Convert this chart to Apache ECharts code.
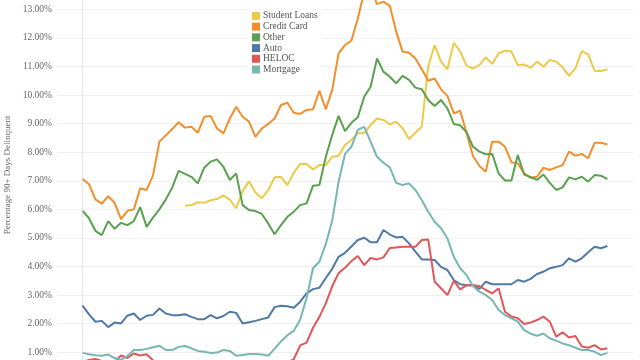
<!DOCTYPE html>
<html><head><meta charset="utf-8">
<script src="https://cdn.jsdelivr.net/npm/echarts@6/dist/echarts.min.js"></script>
<style>html,body{margin:0;padding:0;background:#fff}#c{width:640px;height:360px}</style>
</head><body><div id="c"></div>
<script>
// Quarters 1999Q1 .. 2019Q3 (83 quarters)
const quarters = [];
for (let y = 1999; y <= 2019; y++) for (let q = 1; q <= 4; q++) quarters.push(y + 'Q' + q);
quarters.length = 83;

const seriesNames = ['Student Loans', 'Credit Card', 'Other', 'Auto', 'HELOC', 'Mortgage'];

const studentLoans = [null,null,null,null,null,null,null,null,null,null,
  null,null,null,null,null,null,6.13,6.15,6.25,6.23,
  6.32,6.36,6.49,6.34,6.04,6.64,6.98,6.59,6.39,6.67,
  7.12,7.14,6.85,7.28,7.59,7.59,7.40,7.55,7.55,7.84,
  7.88,8.25,8.43,8.66,8.66,8.95,9.18,9.13,8.97,9.07,
  8.84,8.46,8.68,8.90,10.99,11.75,11.17,10.90,11.83,11.52,
  11.02,10.93,11.05,11.32,11.09,11.46,11.55,11.52,11.05,11.07,
  10.95,11.17,10.99,11.23,11.17,10.97,10.67,10.93,11.54,11.42,
  10.85,10.84,10.90];

const creditCard = [7.06,6.88,6.35,6.20,6.46,6.23,5.66,5.95,6.00,6.74,
  6.68,7.18,8.37,8.59,8.81,9.05,8.86,8.89,8.68,9.24,
  9.27,8.83,8.66,9.18,9.59,9.24,9.07,8.54,8.83,8.99,
  9.18,9.65,9.73,9.38,9.34,9.48,9.50,10.15,9.50,10.18,
  11.46,11.75,11.90,12.68,13.60,13.75,13.18,13.27,13.12,12.22,
  11.52,11.48,11.28,10.90,10.50,10.58,10.20,9.97,9.36,9.45,
  8.66,7.87,7.52,7.32,8.37,8.37,8.19,7.65,7.61,7.26,
  7.11,7.14,7.46,7.38,7.47,7.55,8.02,7.88,7.94,7.79,
  8.33,8.33,8.27];

const other = [5.95,5.69,5.25,5.10,5.59,5.32,5.53,5.45,5.59,6.08,
  5.39,5.71,6.00,6.35,6.76,7.35,7.24,7.14,6.91,7.46,
  7.67,7.75,7.49,7.03,7.26,6.15,5.98,5.94,5.84,5.51,
  5.13,5.45,5.74,5.92,6.15,6.21,6.83,6.85,7.84,8.60,
  9.27,8.74,9.03,9.22,9.94,10.29,11.28,10.82,10.64,10.41,
  10.67,10.53,10.26,10.20,9.83,9.62,9.83,9.53,8.99,8.94,
  8.70,8.19,8.02,7.93,7.94,7.26,7.01,7.01,7.90,7.22,
  7.13,7.03,7.22,6.93,6.68,6.77,7.12,7.05,7.14,6.97,
  7.20,7.18,7.06];

const auto = [2.63,2.33,2.07,2.10,1.88,2.04,2.01,2.28,2.36,2.13,
  2.28,2.31,2.53,2.36,2.30,2.30,2.33,2.24,2.16,2.16,
  2.30,2.19,2.27,2.42,2.38,2.01,2.05,2.10,2.16,2.22,
  2.58,2.63,2.61,2.56,2.77,3.06,3.21,3.26,3.60,3.92,
  4.34,4.48,4.70,4.93,5.01,4.85,4.85,5.28,5.12,5.02,
  5.04,4.81,4.52,4.25,4.25,4.23,3.99,3.88,3.53,3.38,
  3.35,3.35,3.22,3.47,3.38,3.38,3.38,3.38,3.53,3.47,
  3.57,3.74,3.82,3.94,3.99,4.05,4.29,4.17,4.29,4.50,
  4.69,4.64,4.72];

const heloc = [0.67,0.73,0.77,0.70,0.62,0.66,0.89,0.80,0.96,0.89,
  0.93,0.72,0.62,0.60,0.58,0.57,0.56,0.55,0.55,0.54,
  0.55,0.55,0.54,0.55,0.56,0.56,0.57,0.58,0.58,0.60,
  0.60,0.62,0.64,0.76,1.24,1.34,1.86,2.24,2.71,3.31,
  3.77,3.96,4.19,4.37,4.05,4.30,4.25,4.32,4.65,4.67,
  4.69,4.69,4.69,4.93,4.95,3.47,3.24,3.00,3.50,3.20,
  3.35,3.35,3.32,3.18,3.06,3.24,2.42,2.25,2.19,1.99,
  2.04,2.13,2.25,2.07,1.55,1.70,1.52,1.57,1.20,1.16,
  1.25,1.10,1.14];

const mortgage = [0.98,0.93,0.90,0.88,0.92,0.80,0.74,0.87,1.08,1.08,
  1.12,1.18,1.23,1.08,1.08,1.19,1.22,1.14,1.05,1.02,
  0.98,0.99,1.08,1.05,0.88,0.91,0.94,0.94,0.92,0.88,
  1.12,1.38,1.60,1.75,2.15,2.90,3.94,4.17,4.79,5.60,
  6.97,7.94,8.19,8.78,8.89,8.37,7.84,7.63,7.47,6.93,
  6.85,6.91,6.68,6.32,5.92,5.57,5.34,4.99,4.34,3.94,
  3.70,3.32,3.12,3.00,2.83,2.48,2.30,2.19,2.07,1.78,
  1.65,1.58,1.66,1.49,1.41,1.31,1.25,1.16,1.08,1.08,
  1.02,0.90,0.98];

const colors = ['#EDC948', '#F28E2B', '#59A14F', '#4E79A7', '#E15759', '#76B7B2'];
const values = [studentLoans, creditCard, other, auto, heloc, mortgage];
const FONT = 'Liberation Serif';

const chart = echarts.init(document.getElementById('c'), null, {renderer: 'canvas'});
chart.setOption({
  animation: false,
  backgroundColor: '#fff',
  grid: {left: 57, right: 7, top: -19.3, bottom: -20.9, containLabel: false, outerBoundsMode: 'none'},
  legend: {
    orient: 'vertical', left: 247, top: 5.6, padding: 5,
    backgroundColor: '#fff',
    icon: 'rect', itemWidth: 8, itemHeight: 8, itemGap: 0,
    textStyle: {fontFamily: FONT, fontSize: 9.5, color: '#555', lineHeight: 10.7, padding: [0, 0, 0, -2]},
    data: seriesNames
  },
  xAxis: {type: 'value', min: -4, max: 86, show: false},
  yAxis: {
    type: 'value', min: 0, max: 14, interval: 1,
    name: 'Percentage 90+ Days Delinquent', nameLocation: 'middle', nameGap: 40,
    nameTextStyle: {fontFamily: FONT, fontSize: 9, color: '#666', padding: [0, 0, 0, 12]},
    axisLine: {show: true, lineStyle: {color: '#e6e6e6'}},
    axisTick: {show: false},
    axisLabel: {fontFamily: FONT, fontSize: 9.5, color: '#666', margin: 5,
      formatter: v => v.toFixed(2) + '%'},
    splitLine: {lineStyle: {color: '#f0f0f0', width: 1}}
  },
  series: seriesNames.map((n, k) => ({
    name: n, type: 'line', symbol: 'none', color: colors[k],
    lineStyle: {width: 2, color: colors[k]},
    clip: false,
    data: values[k].map((v, i) => [i, v]).filter(p => p[1] !== null)
  }))
});
</script></body></html>
